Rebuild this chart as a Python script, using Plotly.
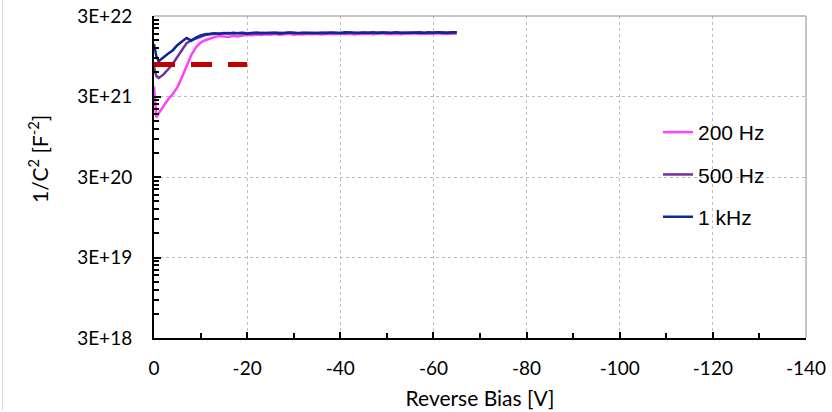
import plotly.graph_objects as go

# ---------------- data ----------------
bias_v = [0, -0.5] + [-float(i) for i in range(1, 66)]

c_1khz = [1.35e22, 9.5e21, 8.2e21, 9.2e21, 1.02e22, 1.12e22, 1.30e22, 1.45e22, 1.60e22,
          1.48e22, 1.62e22, 1.72e22, 1.78e22, 1.80e22, 1.83e22, 1.81e22,
          1.84e22, 1.82e22, 1.86e22, 1.83e22, 1.85e22, 1.81e22, 1.84e22, 1.87e22, 1.83e22, 1.85e22,
          1.84e22, 1.86e22, 1.82e22, 1.85e22, 1.87e22, 1.84e22, 1.83e22, 1.86e22, 1.85e22, 1.88e22,
          1.84e22, 1.86e22, 1.83e22, 1.87e22, 1.85e22, 1.84e22, 1.88e22, 1.85e22, 1.86e22, 1.84e22,
          1.87e22, 1.85e22, 1.88e22, 1.84e22, 1.86e22, 1.87e22, 1.85e22, 1.89e22, 1.86e22, 1.85e22,
          1.88e22, 1.86e22, 1.87e22, 1.85e22, 1.89e22, 1.86e22, 1.88e22, 1.87e22, 1.85e22, 1.89e22, 1.88e22]

c_500hz = [7.0e21, 5.4e21, 5.1e21, 5.6e21, 6.5e21, 7.6e21, 9.3e21, 1.15e22, 1.38e22,
           1.50e22, 1.58e22, 1.68e22, 1.74e22, 1.78e22, 1.80e22, 1.82e22,
           1.83e22, 1.85e22, 1.82e22, 1.84e22, 1.86e22, 1.83e22, 1.85e22, 1.82e22, 1.86e22, 1.84e22,
           1.85e22, 1.83e22, 1.86e22, 1.84e22, 1.85e22, 1.87e22, 1.84e22, 1.85e22, 1.83e22, 1.86e22,
           1.85e22, 1.84e22, 1.87e22, 1.84e22, 1.86e22, 1.85e22, 1.83e22, 1.87e22, 1.85e22, 1.86e22,
           1.84e22, 1.87e22, 1.85e22, 1.86e22, 1.88e22, 1.84e22, 1.86e22, 1.87e22, 1.85e22, 1.86e22,
           1.87e22, 1.85e22, 1.88e22, 1.86e22, 1.85e22, 1.87e22, 1.89e22, 1.86e22, 1.87e22, 1.88e22, 1.87e22]

c_200hz = [4.0e21, 1.65e21, 1.85e21, 2.3e21, 2.75e21, 3.2e21, 3.9e21, 5.2e21, 7.2e21,
           9.8e21, 1.22e22, 1.40e22, 1.50e22, 1.58e22, 1.64e22, 1.69e22,
           1.66e22, 1.65e22, 1.70e22, 1.67e22, 1.72e22, 1.75e22, 1.73e22, 1.77e22, 1.74e22, 1.78e22,
           1.76e22, 1.79e22, 1.75e22, 1.78e22, 1.80e22, 1.76e22, 1.79e22, 1.77e22, 1.81e22, 1.78e22,
           1.80e22, 1.77e22, 1.81e22, 1.79e22, 1.78e22, 1.82e22, 1.79e22, 1.80e22, 1.77e22, 1.81e22,
           1.79e22, 1.82e22, 1.78e22, 1.80e22, 1.83e22, 1.79e22, 1.81e22, 1.80e22, 1.78e22, 1.82e22,
           1.80e22, 1.83e22, 1.79e22, 1.81e22, 1.82e22, 1.80e22, 1.83e22, 1.79e22, 1.82e22, 1.80e22, 1.81e22]

ref_x = [0, -20]
ref_y = [7.5e21, 7.5e21]

y_tick_vals = [3e18, 3e19, 3e20, 3e21, 3e22]
y_tick_text = ["3E+18", "3E+19", "3E+20", "3E+21", "3E+22"]
x_tick_vals = [0, -20, -40, -60, -80, -100, -120, -140]
x_tick_text = ["0", "-20", "-40", "-60", "-80", "-100", "-120", "-140"]
x_minor_vals = [-10, -30, -50, -70, -90, -110, -130]

# ---------------- figure ----------------
W, H = 832, 412
ML, MR, MT, MB = 154, 26, 16, 74
PW, PH = W - ML - MR, H - MT - MB


def px_x(p):
    return (p - ML) / PW


def px_y(p):
    return (H - MB - p) / PH


tick_font = dict(family="Lato, Carlito, sans-serif", size=19, color="#000000")
title_font = dict(family="Lato, Carlito, sans-serif", size=21, color="#000000")

fig = go.Figure()
series = [("200 Hz", c_200hz, "#FF40FF"), ("500 Hz", c_500hz, "#7030A0"), ("1 kHz", c_1khz, "#0D2890")]
for name, ys, col in series:
    fig.add_trace(go.Scatter(x=bias_v, y=ys, mode="lines", name=name, legendgroup=name,
                             line=dict(color=col, width=2.5)))

fig.add_trace(go.Scatter(x=ref_x, y=ref_y, mode="lines", showlegend=False,
                         line=dict(color="#C00000", width=5, dash="21px,16px")))

minor_y = [m * k for m in y_tick_vals[:-1] for k in range(2, 10)]

fig.update_layout(
    width=W, height=H,
    margin=dict(l=ML, r=MR, t=MT, b=MB, autoexpand=False),
    paper_bgcolor="white", plot_bgcolor="white",
    showlegend=True,
    legend=dict(x=px_x(658), xanchor="left", y=px_y(112), yanchor="top",
                font=dict(family="Liberation Sans, Arial, sans-serif", size=21, color="#000000"),
                tracegroupgap=12, bgcolor="rgba(0,0,0,0)", borderwidth=0),
    xaxis=dict(range=[0, -140], tickmode="array", tickvals=x_tick_vals, ticktext=x_tick_text,
               ticks="inside", ticklen=6, tickwidth=2, tickcolor="#000000",
               showline=True, linecolor="#000000", linewidth=2,
               showgrid=True, gridcolor="#BFBFBF", griddash="dot", gridwidth=1,
               zeroline=False, tickfont=tick_font, ticklabelstandoff=12,
               minor=dict(tickmode="array", tickvals=x_minor_vals, ticks="inside",
                          ticklen=5, tickwidth=2, tickcolor="#000000", showgrid=False),
               title=dict(text="Reverse Bias [V]", standoff=14, font=title_font)),
    yaxis=dict(type="log", range=[18.4771, 22.4771], tickmode="array",
               tickvals=y_tick_vals, ticktext=y_tick_text,
               ticks="inside", ticklen=7, tickwidth=2, tickcolor="#000000",
               showline=True, linecolor="#000000", linewidth=2,
               showgrid=True, gridcolor="#BFBFBF", griddash="dot", gridwidth=1,
               zeroline=False, tickfont=tick_font, ticklabelstandoff=16,
               minor=dict(tickmode="array", tickvals=minor_y, ticks="inside", ticklen=5, tickwidth=2,
                          tickcolor="#000000", showgrid=False)),
    shapes=[
        dict(type="line", xref="paper", yref="paper", x0=0, x1=1, y0=1, y1=1,
             line=dict(color="#8C8C8C", width=1)),
        dict(type="line", xref="paper", yref="paper", x0=1, x1=1, y0=0, y1=1,
             line=dict(color="#8C8C8C", width=1)),
        dict(type="line", xref="paper", yref="paper", x0=px_x(2.5), x1=px_x(2.5),
             y0=px_y(0), y1=px_y(410), line=dict(color="#D9D9D9", width=1)),
    ],
    annotations=[
        dict(text="1/C<sup>2</sup> [F<sup>-2</sup>]", xref="paper", yref="paper",
             x=px_x(38), y=px_y(159), xanchor="center", yanchor="middle", textangle=-90,
             showarrow=False, font=title_font),
    ],
)

fig.write_html("out.html")
